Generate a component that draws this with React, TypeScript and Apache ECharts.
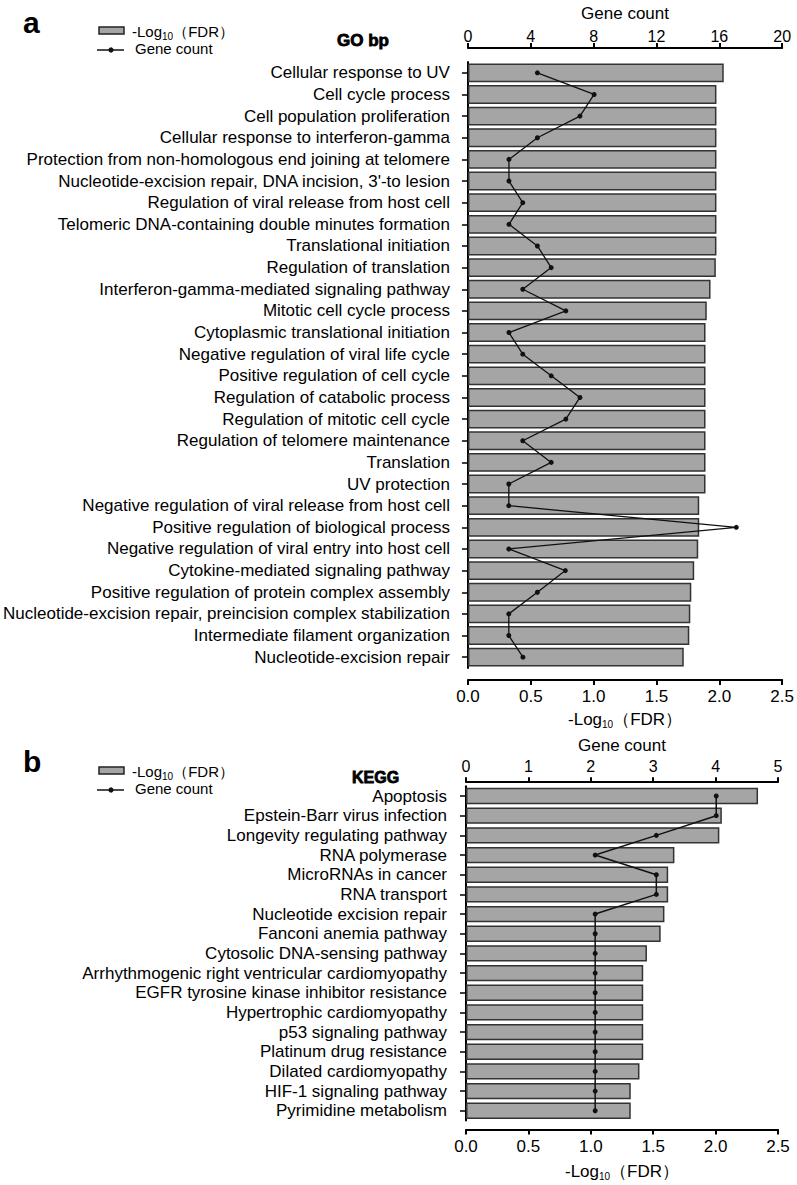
import React, { useEffect, useRef } from "react";
import * as echarts from "echarts";

const goTerms = [
  "Cellular response to UV",
  "Cell cycle process",
  "Cell population proliferation",
  "Cellular response to interferon-gamma",
  "Protection from non-homologous end joining at telomere",
  "Nucleotide-excision repair, DNA incision, 3'-to lesion",
  "Regulation of viral release from host cell",
  "Telomeric DNA-containing double minutes formation",
  "Translational initiation",
  "Regulation of translation",
  "Interferon-gamma-mediated signaling pathway",
  "Mitotic cell cycle process",
  "Cytoplasmic translational initiation",
  "Negative regulation of viral life cycle",
  "Positive regulation of cell cycle",
  "Regulation of catabolic process",
  "Regulation of mitotic cell cycle",
  "Regulation of telomere maintenance",
  "Translation",
  "UV protection",
  "Negative regulation of viral release from host cell",
  "Positive regulation of biological process",
  "Negative regulation of viral entry into host cell",
  "Cytokine-mediated signaling pathway",
  "Positive regulation of protein complex assembly",
  "Nucleotide-excision repair, preincision complex stabilization",
  "Intermediate filament organization",
  "Nucleotide-excision repair",
];
const goFdr = [
  2.035, 1.977, 1.977, 1.977, 1.977, 1.977, 1.977, 1.977, 1.977, 1.972,
  1.93, 1.9, 1.89, 1.89, 1.89, 1.89, 1.89, 1.89, 1.89, 1.89,
  1.84, 1.84, 1.832, 1.8, 1.777, 1.769, 1.761, 1.717,
];
const goCount = [
  4.42, 8.03, 7.13, 4.42, 2.61, 2.61, 3.49, 2.61, 4.42, 5.3,
  3.49, 6.23, 2.61, 3.49, 5.3, 7.13, 6.23, 3.49, 5.3, 2.6,
  2.6, 17.08, 2.6, 6.2, 4.42, 2.6, 2.6, 3.5,
];

const keggTerms = [
  "Apoptosis",
  "Epstein-Barr virus infection",
  "Longevity regulating pathway",
  "RNA polymerase",
  "MicroRNAs in cancer",
  "RNA transport",
  "Nucleotide excision repair",
  "Fanconi anemia pathway",
  "Cytosolic DNA-sensing pathway",
  "Arrhythmogenic right ventricular cardiomyopathy",
  "EGFR tyrosine kinase inhibitor resistance",
  "Hypertrophic cardiomyopathy",
  "p53 signaling pathway",
  "Platinum drug resistance",
  "Dilated cardiomyopathy",
  "HIF-1 signaling pathway",
  "Pyrimidine metabolism",
];
const keggFdr = [
  2.34, 2.05, 2.03, 1.67, 1.62, 1.62, 1.59, 1.56, 1.45, 1.42,
  1.42, 1.42, 1.42, 1.42, 1.39, 1.32, 1.32,
];
const keggCount = [
  4.01, 4.01, 3.05, 2.07, 3.05, 3.05, 2.07, 2.07, 2.07, 2.07,
  2.07, 2.07, 2.07, 2.07, 2.07, 2.07, 2.07,
];

const goTicksFdr = { min: 0, max: 2.5, interval: 0.5 };
const goTicksCount = { min: 0, max: 20, interval: 4 };
const keggTicksFdr = { min: 0, max: 2.5, interval: 0.5 };
const keggTicksCount = { min: 0, max: 5, interval: 1 };

const FONT = "'Liberation Sans', Arial, Helvetica, sans-serif";
const BAR_FILL = "#a5a5a5";
const BAR_BORDER = "#333333";

const fdrRich = {
  sub: { fontSize: 10, fontFamily: FONT, color: "#000", lineHeight: 10, padding: [10, 0, 0, 0] },
};

function valueAxis(gridIndex: number, position: string, ticks: any, offset: number, opts: any) {
  return {
    type: "value",
    gridIndex,
    position,
    offset,
    min: ticks.min,
    max: ticks.max,
    interval: ticks.interval,
    splitLine: { show: false },
    axisLine: { show: true, onZero: false, lineStyle: { color: "#000", width: 2 } },
    axisTick: { show: true, length: 5, lineStyle: { color: "#000", width: 2 } },
    nameLocation: "middle",
    ...opts,
  };
}

function catAxis(gridIndex: number, data: string[], offset: number) {
  return {
    type: "category",
    gridIndex,
    data,
    inverse: true,
    offset,
    axisLine: { show: true, lineStyle: { color: "#000", width: 2 } },
    axisTick: { show: true, length: 6, alignWithLabel: true, lineStyle: { color: "#000", width: 1.5 } },
    axisLabel: { color: "#000", fontSize: 17, fontFamily: FONT, margin: 11, interval: 0 },
  };
}

function legendGraphics(rectY: number, textY1: number, lineY: number, textY2: number) {
  return [
    {
      type: "rect",
      shape: { x: 99, y: rectY, width: 25, height: 7 },
      style: { fill: BAR_FILL, stroke: "#222", lineWidth: 1.5 },
    },
    {
      type: "text",
      x: 132,
      y: textY1,
      style: {
        text: "-Log{sub|10}（FDR）",
        fontSize: 15,
        fontFamily: FONT,
        fill: "#000",
        verticalAlign: "middle",
        rich: fdrRich,
      },
    },
    {
      type: "line",
      shape: { x1: 97, y1: lineY, x2: 124, y2: lineY },
      style: { stroke: "#111", lineWidth: 1.5 },
    },
    {
      type: "circle",
      shape: { cx: 111, cy: lineY, r: 2.6 },
      style: { fill: "#111" },
    },
    {
      type: "text",
      x: 135,
      y: textY2,
      style: { text: "Gene count", fontSize: 15, fontFamily: FONT, fill: "#000", verticalAlign: "middle" },
    },
  ];
}

export default function App() {
  const ref = useRef<HTMLDivElement>(null);

  useEffect(() => {
    if (!ref.current) return;
    const chart = echarts.init(ref.current, null, { renderer: "svg" });
    const option: any = {
      animation: false,
      backgroundColor: "#ffffff",
      textStyle: { fontFamily: FONT },
      grid: [
        { left: 466, width: 317, top: 56, height: 612 },
        { left: 466, width: 312, top: 786.2, height: 334.4 },
      ],
      xAxis: [
        valueAxis(0, "bottom", goTicksFdr, 12, {
          name: "-Log{sub|10}（FDR）",
          nameGap: 25,
          nameTextStyle: { color: "#000", fontSize: 17, fontFamily: FONT, verticalAlign: "top", rich: fdrRich },
          axisLabel: { color: "#000", fontSize: 17, fontFamily: FONT, margin: 8, formatter: (v: number) => v.toFixed(1) },
        }),
        valueAxis(0, "top", goTicksCount, 14, {
          name: "Gene count",
          nameGap: 26,
          nameTextStyle: { color: "#000", fontSize: 17, fontFamily: FONT },
          axisLabel: { color: "#000", fontSize: 16, fontFamily: FONT, margin: 4 },
        }),
        valueAxis(1, "bottom", keggTicksFdr, 9, {
          name: "-Log{sub|10}（FDR）",
          nameGap: 33,
          nameTextStyle: { color: "#000", fontSize: 17, fontFamily: FONT, verticalAlign: "top", rich: fdrRich },
          axisLabel: { color: "#000", fontSize: 17, fontFamily: FONT, margin: 8, formatter: (v: number) => v.toFixed(1) },
        }),
        valueAxis(1, "top", keggTicksCount, 4, {
          name: "Gene count",
          nameGap: 28,
          nameTextStyle: { color: "#000", fontSize: 17, fontFamily: FONT },
          axisLabel: { color: "#000", fontSize: 16, fontFamily: FONT, margin: 8 },
        }),
      ],
      yAxis: [catAxis(0, goTerms, 7), catAxis(1, keggTerms, 8)],
      series: [
        {
          name: "-Log10（FDR）",
          type: "bar",
          xAxisIndex: 0,
          yAxisIndex: 0,
          data: goFdr,
          barCategoryGap: "13%",
          itemStyle: { color: BAR_FILL, borderColor: BAR_BORDER, borderWidth: 1.5 },
        },
        {
          name: "Gene count",
          type: "line",
          xAxisIndex: 1,
          yAxisIndex: 0,
          data: goCount,
          symbol: "circle",
          symbolSize: 5,
          itemStyle: { color: "#111" },
          lineStyle: { color: "#111", width: 1.3 },
          z: 5,
        },
        {
          name: "-Log10（FDR）",
          type: "bar",
          xAxisIndex: 2,
          yAxisIndex: 1,
          data: keggFdr,
          barCategoryGap: "17%",
          itemStyle: { color: BAR_FILL, borderColor: BAR_BORDER, borderWidth: 1.5 },
        },
        {
          name: "Gene count",
          type: "line",
          xAxisIndex: 3,
          yAxisIndex: 1,
          data: keggCount,
          symbol: "circle",
          symbolSize: 5,
          itemStyle: { color: "#111" },
          lineStyle: { color: "#111", width: 1.5 },
          z: 5,
        },
      ],
      graphic: [
        {
          type: "text",
          x: 23,
          y: 22,
          style: { text: "a", fontSize: 30, fontWeight: "bold", fontFamily: FONT, fill: "#000", verticalAlign: "middle" },
        },
        {
          type: "text",
          x: 23,
          y: 761,
          style: { text: "b", fontSize: 30, fontWeight: "bold", fontFamily: FONT, fill: "#000", verticalAlign: "middle" },
        },
        {
          type: "text",
          x: 337,
          y: 40,
          style: {
            text: "GO bp",
            fontSize: 17,
            fontWeight: "bold",
            fontFamily: FONT,
            fill: "#000",
            stroke: "#000",
            lineWidth: 0.8,
            verticalAlign: "middle",
          },
        },
        {
          type: "text",
          x: 352,
          y: 777,
          style: {
            text: "KEGG",
            fontSize: 16,
            fontWeight: "bold",
            fontFamily: FONT,
            fill: "#000",
            stroke: "#000",
            lineWidth: 0.8,
            verticalAlign: "middle",
          },
        },
        ...legendGraphics(27, 31.5, 50, 48.5),
        ...legendGraphics(767, 771.5, 790, 788.5),
      ],
    };
    chart.setOption(option);
    return () => chart.dispose();
  }, []);

  return (
    <div
      ref={ref}
      style={{ position: "fixed", left: 0, top: 0, width: 797, height: 1185, background: "#fff" }}
    />
  );
}
